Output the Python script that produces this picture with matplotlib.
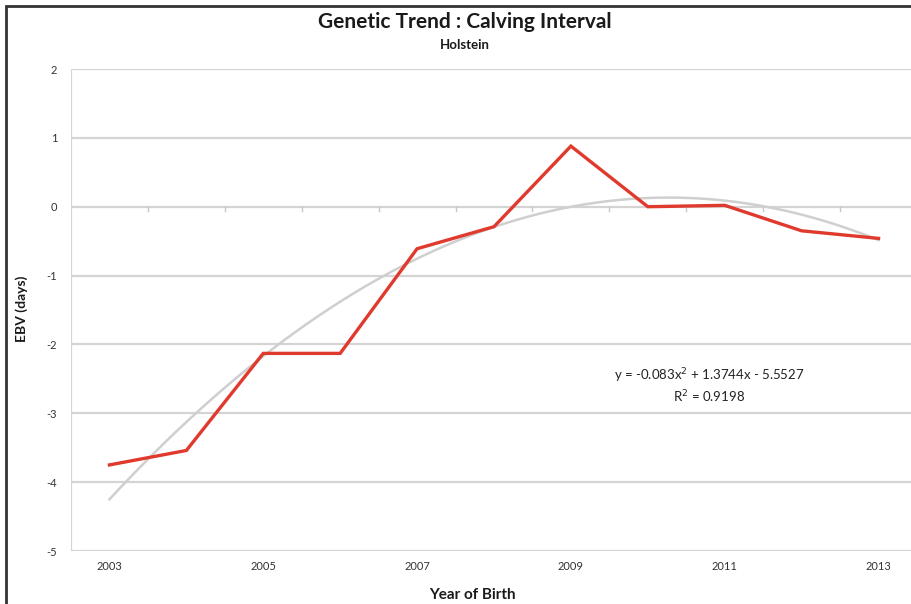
import numpy as np
import matplotlib.pyplot as plt
from matplotlib.patches import Rectangle

# EBV for calving interval, Holstein, by year of birth
years = [2003, 2004, 2005, 2006, 2007, 2008, 2009, 2010, 2011, 2012, 2013]
ebv = [-3.75, -3.54, -2.13, -2.13, -0.61, -0.29, 0.88, 0.0, 0.02, -0.35, -0.46]
year_labels = [2003, 2005, 2007, 2009, 2011, 2013]
y_ticks = [2, 1, 0, -1, -2, -3, -4, -5]
trend_text = "y = -0.083x$^2$ + 1.3744x - 5.5527\nR$^2$ = 0.9198"

plt.rcParams['font.family'] = ['Lato', 'DejaVu Sans']
plt.rcParams['axes.unicode_minus'] = False

W, H = 911, 604
fig = plt.figure(figsize=(W / 100, H / 100), dpi=100)
fig.patch.set_facecolor('white')

# axes in pixel coords: left 71, right ~917 (cut by the image edge), top 69, bottom 551
left, right, top, bottom = 71, 917, 69, 551
ax = fig.add_axes([left / W, 1 - bottom / H, (right - left) / W, (bottom - top) / H])
ax.set_xlim(2002.5, 2013.5)
ax.set_ylim(-5, 2)

# horizontal gridlines
for v in y_ticks:
    ax.axhline(v, color='#d4d4d4', lw=1.6, zorder=1)
ax.axvline(2002.5, color='#d4d4d4', lw=1.6, zorder=1)

# small category ticks on the zero line
for xt in np.arange(2003.5, 2013.5, 1.0):
    ax.plot([xt, xt], [0, -0.06], color='#c8c8c8', lw=1, zorder=1)

# 2nd order polynomial trend (x = 1..n, as Excel does)
idx = np.arange(1, len(years) + 1)
coef = np.polyfit(idx, ebv, 2)
xs = np.linspace(1, len(years), 200)
ax.plot(xs + years[0] - 1, np.polyval(coef, xs), color='#cfcfcf', lw=1.8, zorder=2)

ax.plot(years, ebv, color='#e03a2e', lw=2.4, zorder=3, solid_joinstyle='miter')

for s in ax.spines.values():
    s.set_visible(False)
ax.set_xticks(year_labels)
ax.set_xticklabels([str(y) for y in year_labels])
ax.set_yticks(y_ticks)
ax.tick_params(length=0, labelsize=8, colors='#333333')
ax.tick_params(axis='x', pad=7)
ax.tick_params(axis='y', pad=10)

ax.text(2010.8, -2.6, trend_text, ha='center', va='center', fontsize=9.5,
        color='#222222', linespacing=1.25)

fig.text(465 / W, 1 - 22 / H, 'Genetic Trend : Calving Interval', ha='center', va='center',
         fontsize=15, fontweight='bold', color='#1a1a1a')
fig.text(465 / W, 1 - 45 / H, 'Holstein', ha='center', va='center',
         fontsize=9.5, fontweight='bold', color='#1a1a1a')
fig.text(22 / W, 1 - 309 / H, 'EBV (days)', ha='center', va='center', rotation=90,
         fontsize=10, fontweight='bold', color='#1a1a1a')
fig.text(472 / W, 1 - 595 / H, 'Year of Birth', ha='center', va='center',
         fontsize=11, fontweight='bold', color='#1a1a1a')

# outer chart border (only top and left edges visible)
fig.patches.append(Rectangle((6 / W, -0.1), 1.2, 1 - 6 / H + 0.1, transform=fig.transFigure,
                             fill=False, edgecolor='#333333', lw=2))

fig.savefig('out.png', dpi=100, facecolor='white')
